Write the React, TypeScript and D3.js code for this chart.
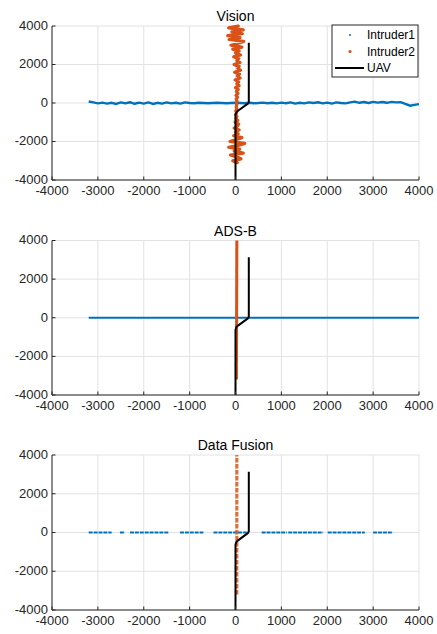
import React from "react";
import * as d3 from "d3";

// ---------- data ----------
const xTicks = [-4000, -3000, -2000, -1000, 0, 1000, 2000, 3000, 4000];
const yTicks = [-4000, -2000, 0, 2000, 4000];
const panelTitles = ["Vision", "ADS-B", "Data Fusion"];
const legendLabels = ["Intruder1", "Intruder2", "UAV"];

// UAV trajectory (same in every panel)
const uavX = [0, 0, 20, 70, 270, 290, 290];
const uavY = [-4000, -620, -480, -380, -30, 50, 3130];

// Vision – Intruder1 (x, y)
const visionI1X = [
  -3200, -3100, -3000, -2900, -2800, -2700, -2600, -2500, -2400, -2300, -2200, -2100, -2000,
  -1900, -1800, -1700, -1600, -1500, -1400, -1300, -1200, -1100, -1000, -900, -800, -700,
  -600, -500, -400, -300, -200, -100, 0, 100, 200, 300, 400, 500, 600, 700, 800, 900, 1000,
  1100, 1200, 1300, 1400, 1500, 1600, 1700, 1800, 1900, 2000, 2100, 2200, 2300, 2400, 2500,
  2600, 2700, 2800, 2900, 3000, 3100, 3200, 3300, 3400, 3500, 3600, 3700, 3800, 3900, 4000,
];
const visionI1Y = [
  80, 30, -20, 20, -30, 10, -50, 30, -20, 40, -40, 20, -30,
  30, -50, 10, -30, 30, -20, 10, -30, 30, 0, -10, 10, 0,
  -10, 0, 10, 0, -10, 0, 10, 0, -10, 10, -10, 0, 20, -10, 10, -20, 20,
  -10, 30, -30, 10, -20, 30, 0, 40, -20, 20, -30, 30, 0, -20, 30,
  70, 10, 50, 0, 60, 20, 50, 10, 60, 30, 40, -40, -140, -100, -60,
];

// Vision – Intruder2 (x, y)
const visionI2Y = [
  -3100, -3000, -2900, -2800, -2700, -2600, -2500, -2400, -2300, -2200, -2100, -2000, -1900,
  -1800, -1700, -1600, -1500, -1400, -1300, -1200, -1100, -1000, -900, -800, -700, -600,
  -500, -400, -300, -200, -100, 0, 100, 200, 300, 400, 500, 600, 700, 800, 900, 1000, 1100,
  1200, 1300, 1400, 1500, 1600, 1700, 1800, 1900, 2000, 2100, 2200, 2300, 2400, 2500, 2600,
  2700, 2800, 2900, 3000, 3100, 3200, 3300, 3400, 3500, 3600, 3700, 3800, 3900, 4000,
];
const visionI2X = [
  40, -60, 120, 30, -110, 170, -30, 90, -150, 60, 200, -120, 20,
  140, -40, 60, 0, 80, -30, 40, 70, -10, 50, 10, 30, 0,
  25, 5, 30, 15, 25, 20, 35, 15, 45, 10, 55, 20, 60, 0, 80, 30, 70,
  -10, 100, 40, 90, -20, 110, 50, 80, -30, 100, 30, 70, -40, 110, 0,
  80, -60, 140, -100, 60, 180, -140, 100, -170, 150, -80, 170, -150, 60,
];

// ADS-B – straight tracks
const adsbI1X = [-3200, 4000];
const adsbI1Y = [0, 0];
const adsbI2X = [20, 30];
const adsbI2Y = [-3200, 4000];

// Data fusion – Intruder1 dotted segments [start, end] along y = 0
const fusionI1Segments = [
  [-3200, -2700], [-2520, -2410], [-2300, -1460], [-1210, -700],
  [-480, 280], [570, 1120], [1150, 1910], [2010, 2820], [3000, 3430],
];
// Data fusion – Intruder2 dotted track along x ≈ 30
const fusionI2X = [30, 30];
const fusionI2Y = [-3200, 4000];

// ---------- layout ----------
const W = 437;
const H = 634;
const left = 52;
const right = 419;
const panelTops = [26, 240.5, 455];
const panelHeights = [154, 154.5, 155];

const BLUE = "#0072BD";
const ORANGE = "#D95319";
const AX = "#262626";
const GRID = "#e2e2e2";
const FONT = "'Liberation Sans', Arial, Helvetica, sans-serif";
const TICK_FS = 13;

function Panel({ idx }: { idx: number }) {
  const top = panelTops[idx];
  const bottom = top + panelHeights[idx];
  const x = d3.scaleLinear().domain([-4000, 4000]).range([left, right]);
  const y = d3.scaleLinear().domain([-4000, 4000]).range([bottom, top]);
  const line = d3
    .line<[number, number]>()
    .x((d) => x(d[0]))
    .y((d) => y(d[1]));
  const zip = (xs: number[], ys: number[]) =>
    xs.map((v, i) => [v, ys[i]] as [number, number]);

  const clipId = `clip${idx}`;
  return (
    <g>
      <defs>
        <clipPath id={clipId}>
          <rect x={left} y={top - 2} width={right - left} height={bottom - top + 2} />
        </clipPath>
      </defs>
      {/* grid */}
      {xTicks.map((t) => (
        <line key={"gx" + t} x1={x(t)} x2={x(t)} y1={top} y2={bottom} stroke={GRID} strokeWidth={1} />
      ))}
      {yTicks.map((t) => (
        <line key={"gy" + t} x1={left} x2={right} y1={y(t)} y2={y(t)} stroke={GRID} strokeWidth={1} />
      ))}
      <g clipPath={`url(#${clipId})`}>
        {idx === 0 && (
          <>
            <path d={line(zip(visionI1X, visionI1Y)) || ""} fill="none" stroke={BLUE} strokeWidth={2.4} strokeLinejoin="round" />
            <path d={line(zip(visionI2X, visionI2Y)) || ""} fill="none" stroke={ORANGE} strokeWidth={3.2} strokeLinejoin="round" strokeLinecap="round" />
          </>
        )}
        {idx === 1 && (
          <>
            <path d={line(zip(adsbI1X, adsbI1Y)) || ""} fill="none" stroke={BLUE} strokeWidth={2} />
            <path d={line(zip(adsbI2X, adsbI2Y)) || ""} fill="none" stroke={ORANGE} strokeWidth={3} />
          </>
        )}
        {idx === 2 && (
          <>
            {fusionI1Segments.map((s, i) => (
              <path
                key={"fs" + i}
                d={line([[s[0], 0], [s[1], 0]]) || ""}
                fill="none"
                stroke={BLUE}
                strokeWidth={2}
                strokeDasharray="4,0.9"
              />
            ))}
            <path
              d={line(zip(fusionI2X, fusionI2Y)) || ""}
              fill="none"
              stroke={ORANGE}
              strokeWidth={3}
              strokeDasharray="4.5,1.5"
              opacity={0.85}
            />
          </>
        )}
        <path d={line(zip(uavX, uavY)) || ""} fill="none" stroke="#000" strokeWidth={2} strokeLinejoin="round" />
      </g>
      {/* axes */}
      <line x1={left} x2={left} y1={top} y2={bottom} stroke={AX} strokeWidth={1} />
      <line x1={left} x2={right} y1={bottom} y2={bottom} stroke={AX} strokeWidth={1} />
      {xTicks.map((t) => (
        <g key={"tx" + t}>
          <line x1={x(t)} x2={x(t)} y1={bottom} y2={bottom - 3.5} stroke={AX} />
          <text x={x(t)} y={bottom + 15} textAnchor="middle" fontSize={TICK_FS} fill={AX} fontFamily={FONT}>
            {t}
          </text>
        </g>
      ))}
      {yTicks.map((t) => (
        <g key={"ty" + t}>
          <line x1={left} x2={left + 3.5} y1={y(t)} y2={y(t)} stroke={AX} />
          <text x={left - 4} y={y(t)} dy="0.3em" textAnchor="end" fontSize={TICK_FS} fill={AX} fontFamily={FONT}>
            {t}
          </text>
        </g>
      ))}
      <text x={(left + right) / 2} y={top - 5} textAnchor="middle" fontSize={14} fill="#000" fontFamily={FONT}>
        {panelTitles[idx]}
      </text>
    </g>
  );
}

function Legend() {
  const lx = 332;
  const ly = 25;
  const lw = 86;
  const lh = 52;
  const rows = [35, 51.5, 68];
  return (
    <g fontFamily={FONT}>
      <rect x={lx} y={ly} width={lw} height={lh} fill="#fff" stroke={AX} strokeWidth={1} />
      <circle cx={350} cy={rows[0]} r={1} fill={BLUE} />
      <circle cx={350} cy={rows[1]} r={1.6} fill={ORANGE} />
      <line x1={335} x2={364} y1={rows[2]} y2={rows[2]} stroke="#000" strokeWidth={2} />
      {legendLabels.map((l, i) => (
        <text key={l} x={367} y={rows[i]} dy="0.36em" fontSize={12} fill="#000">
          {l}
        </text>
      ))}
    </g>
  );
}

export default function App() {
  return (
    <svg
      width={W}
      height={H}
      style={{ position: "absolute", left: 0, top: 0, background: "#fff" }}
    >
      <rect width={W} height={H} fill="#fff" />
      {[0, 1, 2].map((i) => (
        <Panel key={i} idx={i} />
      ))}
      <Legend />
    </svg>
  );
}
